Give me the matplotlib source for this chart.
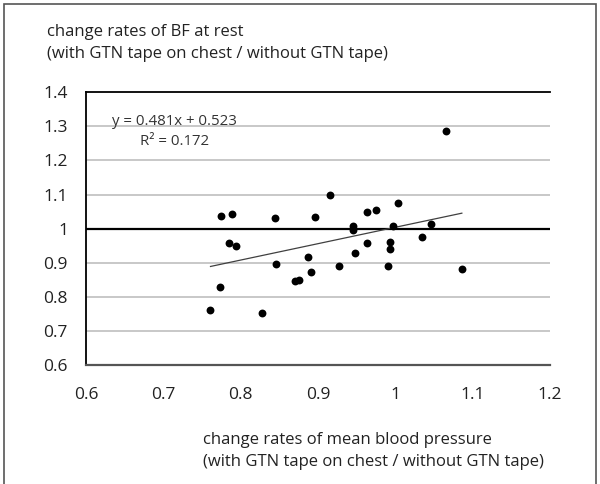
import matplotlib
matplotlib.use("Agg")
import matplotlib.pyplot as plt
from matplotlib.patches import Rectangle
from matplotlib.ticker import FuncFormatter

plt.rcParams["font.family"] = ["Open Sans", "DejaVu Sans"]

# change rates of mean blood pressure (x) vs change rates of BF at rest (y)
bp_rate = [0.761, 0.773, 0.774, 0.789, 0.785, 0.794, 0.827, 0.844, 0.846, 0.870,
           0.876, 0.887, 0.891, 0.896, 0.916, 0.927, 1.065, 0.945, 0.945, 0.948,
           0.963, 0.975, 0.963, 1.003, 0.997, 0.993, 0.993, 0.991, 1.034, 1.046,
           1.086]
bf_rate = [0.760, 0.830, 1.036, 1.044, 0.959, 0.949, 0.753, 1.030, 0.896, 0.845,
           0.849, 0.918, 0.874, 1.034, 1.099, 0.889, 1.285, 1.007, 0.997, 0.930,
           1.049, 1.056, 0.958, 1.075, 1.007, 0.962, 0.940, 0.890, 0.976, 1.015,
           0.882]

slope = 0.481
intercept = 0.523
r2 = 0.172

x_ticks = [0.6, 0.7, 0.8, 0.9, 1.0, 1.1, 1.2]
y_ticks = [0.6, 0.7, 0.8, 0.9, 1.0, 1.1, 1.2, 1.3, 1.4]

fig = plt.figure(figsize=(6.0, 4.84), dpi=100)
ax = fig.add_axes([0.1433, 0.2459, 0.7734, 0.5634])

# grid lines
for yv in y_ticks[1:-1]:
    if yv == 1.0:
        ax.axhline(yv, color="black", lw=1.6, zorder=1)
    else:
        ax.axhline(yv, color="#c4c4c4", lw=1.3, zorder=1)

ax.scatter(bp_rate, bf_rate, s=32, color="black", zorder=3, linewidths=0)

# linear trend line across data range
x0, x1 = min(bp_rate), max(bp_rate)
ax.plot([x0, x1], [slope * x0 + intercept, slope * x1 + intercept],
        color="#404040", lw=0.9, zorder=2)

ax.text(0.714, 1.314, "y = %.3fx + %.3f" % (slope, intercept), fontsize=10.8,
        color="#333333", va="center", ha="center")
ax.text(0.714, 1.256, "R² = %.3f" % r2, fontsize=10.8,
        color="#333333", va="center", ha="center")

ax.set_xlim(0.6, 1.2)
ax.set_ylim(0.6, 1.4)
ax.set_xticks(x_ticks)
ax.set_yticks(y_ticks)
fmt = FuncFormatter(lambda v, p: "%g" % round(v, 2))
ax.xaxis.set_major_formatter(fmt)
ax.yaxis.set_major_formatter(fmt)
ax.tick_params(length=0, labelsize=12.5, colors="#222222")
ax.tick_params(axis="x", pad=16)
ax.tick_params(axis="y", pad=13)

ax.spines["right"].set_visible(False)
ax.spines["top"].set_color("black")
ax.spines["top"].set_linewidth(1.3)
ax.spines["left"].set_color("black")
ax.spines["left"].set_linewidth(1.3)
ax.spines["bottom"].set_color("#555555")
ax.spines["bottom"].set_linewidth(1.6)

fig.text(47 / 600, 1 - 32 / 484, "change rates of BF at rest", fontsize=12,
         color="#222222", va="center", ha="left")
fig.text(47 / 600, 1 - 54 / 484, "(with GTN tape on chest / without GTN tape)",
         fontsize=12, color="#222222", va="center", ha="left")
fig.text(203 / 600, 1 - 440 / 484, "change rates of mean blood pressure",
         fontsize=12, color="#222222", va="center", ha="left")
fig.text(203 / 600, 1 - 462 / 484, "(with GTN tape on chest / without GTN tape)",
         fontsize=12, color="#222222", va="center", ha="left")

fig.patches.append(Rectangle((4 / 600, -0.01), 592 / 600, 1 - 4 / 484 + 0.01,
                             transform=fig.transFigure, fill=False,
                             edgecolor="#555555", lw=1.2))

fig.savefig("out.png", dpi=100)
